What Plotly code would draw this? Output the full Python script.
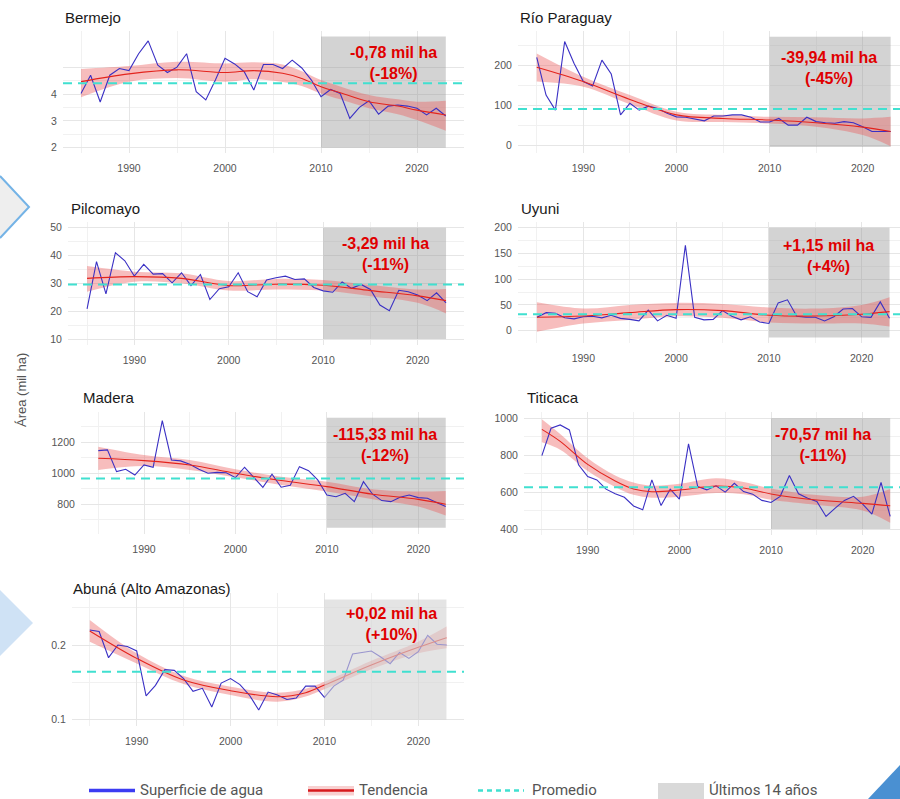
import plotly.graph_objects as go

YEARS = list(range(1985, 2024))

NAMES = ["Bermejo", "Río Paraguay", "Pilcomayo", "Uyuni", "Madera", "Titicaca",
         "Abuná (Alto Amazonas)"]

# ---- water surface (mil ha), 1985..2023 ----
bermejo = [4.02, 4.70, 3.70, 4.70, 4.95, 4.87, 5.50, 5.98, 5.07, 4.80,
           5.00, 5.50, 4.09, 3.78, 4.52, 5.33, 5.12, 4.83, 4.15, 5.10,
           5.10, 4.95, 5.26, 4.97, 4.52, 3.90, 4.17, 4.02, 3.09, 3.50,
           3.75, 3.25, 3.55, 3.59, 3.55, 3.47, 3.22, 3.47, 3.18]
rio_paraguay = [221, 126, 88, 261, 206, 160, 149, 214, 179, 76,
                105, 88, 98, 92, 80, 71, 70, 66, 61, 73,
                73, 76, 76, 70, 58, 58, 67, 50, 50, 70,
                59, 56, 55, 59, 56, 46, 34, 34, 34]
pilcomayo = [20.8, 37.8, 26.2, 41.0, 38.1, 32.6, 36.8, 33.3, 33.5, 30.2,
             33.8, 29.2, 33.2, 24.2, 28.1, 28.8, 33.8, 27.0, 25.2, 31.2,
             32.0, 32.6, 31.4, 31.6, 28.5, 27.3, 26.8, 30.5, 28.2, 29.6,
             27.8, 22.2, 20.2, 27.5, 27.0, 25.8, 23.8, 26.6, 23.0]
uyuni = [26, 35, 34, 25, 23, 27, 28, 25, 30, 24,
         22, 19, 40, 19, 30, 24, 166, 26, 21, 22,
         39, 28, 21, 27, 17, 14, 54, 60, 28, 26,
         26, 19, 27, 42, 43, 27, 26, 56, 24]
madera = [1146, 1151, 1011, 1026, 989, 1054, 1039, 1340, 1086, 1080,
          1058, 1026, 1000, 1006, 1004, 972, 1039, 974, 910, 994,
          910, 923, 1043, 1017, 957, 860, 849, 871, 817, 946,
          865, 824, 817, 845, 860, 843, 839, 811, 785]
titicaca = [798, 946, 964, 937, 748, 684, 666, 616, 591, 572,
            525, 504, 666, 527, 616, 562, 861, 630, 612, 634,
            600, 648, 603, 589, 555, 544, 577, 690, 591, 567,
            549, 468, 513, 555, 577, 535, 481, 652, 468]
abuna = [0.220, 0.218, 0.183, 0.200, 0.198, 0.192, 0.132, 0.146, 0.167, 0.166,
         0.155, 0.138, 0.142, 0.117, 0.149, 0.155, 0.147, 0.133, 0.113, 0.137,
         0.133, 0.127, 0.129, 0.145, 0.145, 0.130, 0.145, 0.153, 0.188, 0.190,
         0.192, 0.184, 0.175, 0.190, 0.182, 0.191, 0.213, 0.201, 0.200]

# ---- trend (smoothed) with confidence band, read at selected years ----
bermejo_ty = [1985, 1990, 1995, 2000, 2003, 2006, 2008, 2010, 2012, 2015, 2018, 2020, 2023]
bermejo_trend = [4.46, 4.75, 4.90, 4.80, 4.87, 4.77, 4.58, 4.27, 4.05, 3.71, 3.55, 3.40, 3.22]
bermejo_up = [4.93, 5.04, 5.20, 5.14, 5.18, 5.10, 4.85, 4.52, 4.28, 3.96, 3.80, 3.71, 3.75]
bermejo_lo = [3.88, 4.46, 4.60, 4.46, 4.55, 4.45, 4.30, 4.02, 3.80, 3.47, 3.25, 3.03, 2.63]

rio_paraguay_ty = [1985, 1990, 1995, 2000, 2005, 2010, 2015, 2020, 2023]
rio_paraguay_trend = [196, 160, 115, 76, 67, 63, 56, 45, 34]
rio_paraguay_up = [231, 172, 126, 84, 76, 71, 70, 67, 71]
rio_paraguay_lo = [160, 147, 103, 62, 58, 54, 46, 25, -3]

pilcomayo_ty = [1985, 1990, 1995, 2000, 2005, 2010, 2015, 2020, 2023]
pilcomayo_trend = [31.8, 32.4, 31.8, 29.2, 29.7, 29.3, 27.4, 25.5, 23.8]
pilcomayo_up = [36.2, 34.2, 33.6, 30.8, 31.6, 31.2, 29.4, 27.8, 28.0]
pilcomayo_lo = [27.0, 30.6, 30.0, 27.4, 27.8, 27.4, 25.4, 23.0, 19.2]

uyuni_ty = [1985, 1990, 1995, 2000, 2005, 2010, 2015, 2020, 2023]
uyuni_trend = [26, 28.5, 35, 41, 39, 30, 28.5, 32, 37]
uyuni_up = [55, 43, 50, 54, 52, 45, 43, 50, 65]
uyuni_lo = [-2, 14, 21, 28, 25, 16, 14, 14, 8]

madera_ty = [1985, 1990, 1995, 2000, 2005, 2010, 2015, 2020, 2023]
madera_trend = [1097, 1082, 1054, 1000, 953, 914, 865, 832, 800]
madera_up = [1172, 1118, 1086, 1026, 978, 946, 897, 882, 886]
madera_lo = [1022, 1047, 1022, 974, 925, 882, 832, 785, 727]

titicaca_ty = [1985, 1987, 1990, 1993, 1995, 1997, 2000, 2004, 2007, 2010, 2015, 2020, 2023]
titicaca_trend = [940, 875, 750, 660, 617, 602, 611, 633, 622, 590, 557, 539, 526]
titicaca_up = [995, 915, 783, 690, 652, 635, 645, 675, 655, 620, 584, 575, 617]
titicaca_lo = [870, 830, 715, 628, 585, 570, 575, 595, 588, 558, 530, 500, 434]

abuna_ty = [1985, 1990, 1995, 2000, 2005, 2008, 2010, 2015, 2020, 2023]
abuna_trend = [0.2188, 0.1821, 0.1531, 0.1388, 0.1308, 0.1362, 0.1464, 0.1732, 0.1969, 0.2098]
abuna_up = [0.2335, 0.1888, 0.1585, 0.1442, 0.1362, 0.1415, 0.1509, 0.1790, 0.2045, 0.2246]
abuna_lo = [0.2045, 0.1754, 0.1478, 0.1330, 0.1241, 0.1310, 0.1406, 0.1674, 0.1888, 0.1955]

# ---- averages and "last 14 years" band limits ----
MEANS = [4.40, 91, 29.6, 32, 966, 626, 0.1643]
BAND_X = [2010, 2023]
BAND_LOW = [2.0, -5, 10, -13, 649, 400, 0.1]
BAND_HIGH = [6.14, 273, 50, 200, 1359, 1000, 0.261]

CHANGES = ["-0,78 mil ha<br>(-18%)", "-39,94 mil ha<br>(-45%)", "-3,29 mil ha<br>(-11%)",
           "+1,15 mil ha<br>(+4%)", "-115,33 mil ha<br>(-12%)", "-70,57 mil ha<br>(-11%)",
           "+0,02 mil ha<br>(+10%)"]

# y tick labels
Y_TICKS = [[2, 3, 4, 5], [0, 100, 200], [10, 20, 30, 40, 50], [0, 50, 100, 150, 200],
           [800, 1000, 1200], [400, 600, 800, 1000], [0.1, 0.2]]
Y_TICKTEXT = [["2", "3", "4", ""], ["0", "100", "200"], ["10", "20", "30", "40", "50"],
              ["0", "50", "100", "150", "200"], ["800", "1000", "1200"],
              ["400", "600", "800", "1000"], ["0.1", "0.2"]]
Y_MINOR = [[2.5, 3.5, 4.5], [50, 150, 250], [15, 25, 35, 45], [-25, 25, 75, 125, 175],
           [700, 900, 1100, 1300], [500, 700, 900], [0.15, 0.25]]
X_TICKS = [1990, 2000, 2010, 2020]
X_MINOR = [1985, 1995, 2005, 2015]

SERIES = [bermejo, rio_paraguay, pilcomayo, uyuni, madera, titicaca, abuna]
TRENDS = [(bermejo_ty, bermejo_trend, bermejo_up, bermejo_lo),
          (rio_paraguay_ty, rio_paraguay_trend, rio_paraguay_up, rio_paraguay_lo),
          (pilcomayo_ty, pilcomayo_trend, pilcomayo_up, pilcomayo_lo),
          (uyuni_ty, uyuni_trend, uyuni_up, uyuni_lo),
          (madera_ty, madera_trend, madera_up, madera_lo),
          (titicaca_ty, titicaca_trend, titicaca_up, titicaca_lo),
          (abuna_ty, abuna_trend, abuna_up, abuna_lo)]

# ---- layout (pixel geometry of each panel) ----
W, H = 900, 799
# box: left, right, top, bottom ; xcal: pixel of 1990, 2020 ; ycal: (px, val), (px, val)
LAYOUT = [
    dict(box=(63, 464, 31, 153), xcal=(129, 417), ycal=((94, 4), (147.7, 2)), title=(63, 17), note=(393, 63)),
    dict(box=(518, 900, 31, 153), xcal=(583.3, 862.7), ycal=((65.7, 200), (145, 0)), title=(518, 17), note=(829, 68)),
    dict(box=(68, 464, 222, 345), xcal=(134.3, 417.7), ycal=((227.7, 50), (339, 10)), title=(69, 208), note=(385, 254)),
    dict(box=(518, 900, 222, 343), xcal=(583.3, 861.7), ycal=((227.7, 200), (330.7, 0)), title=(519, 208), note=(828, 256)),
    dict(box=(81, 464, 412, 534), xcal=(144, 418.3), ycal=((442.3, 1200), (504.3, 800)), title=(81, 397), note=(385, 445)),
    dict(box=(524, 900, 412, 535), xcal=(587.7, 862.7), ycal=((418.3, 1000), (529, 400)), title=(525, 397), note=(823, 445)),
    dict(box=(72, 464, 593, 726), xcal=(136.7, 418.3), ycal=((645, 0.2), (719.7, 0.1)), title=(71, 588), note=(391, 624)),
]


def lin(p1, v1, p2, v2, p):
    return v1 + (p - p1) * (v2 - v1) / (p2 - p1)


def px(x):
    return x / W


def py(y):
    return 1 - y / H


FONT = "Liberation Sans, Arial, sans-serif"
BLUE = "#3a30c4"
RED = "#e3241d"
CYAN = "#40E0D0"
BAND = "rgba(235,90,90,0.40)"

fig = go.Figure()
shapes = []
annotations = []

for i in range(7):
    n = i + 1
    xa = "x" if n == 1 else f"x{n}"
    ya = "y" if n == 1 else f"y{n}"
    L = LAYOUT[i]
    left, right, top, bottom = L["box"]
    ty, tr, up, lo = TRENDS[i]

    fig.add_trace(go.Scatter(x=ty, y=up, mode="lines", line=dict(width=0, shape="spline"),
                             hoverinfo="skip", showlegend=False, xaxis=xa, yaxis=ya))
    fig.add_trace(go.Scatter(x=ty, y=lo, mode="lines", line=dict(width=0, shape="spline"),
                             fill="tonexty", fillcolor=BAND, hoverinfo="skip",
                             showlegend=False, xaxis=xa, yaxis=ya))
    fig.add_trace(go.Scatter(x=YEARS, y=SERIES[i], mode="lines", line=dict(color=BLUE, width=1.1),
                             name="Superficie de agua", showlegend=False, xaxis=xa, yaxis=ya))
    fig.add_trace(go.Scatter(x=ty, y=tr, mode="lines", line=dict(color=RED, width=1.1, shape="spline"),
                             name="Tendencia", showlegend=False, xaxis=xa, yaxis=ya))

    xr = [lin(L["xcal"][0], 1990, L["xcal"][1], 2020, left),
          lin(L["xcal"][0], 1990, L["xcal"][1], 2020, right)]
    (p1, v1), (p2, v2) = L["ycal"]
    yr = [lin(p1, v1, p2, v2, bottom), lin(p1, v1, p2, v2, top)]

    axis_common = dict(showline=False, zeroline=False, showgrid=True,
                       gridcolor="#e6e6e6", gridwidth=1,
                       tickfont=dict(family=FONT, size=10.5, color="#555555"),
                       ticks="outside", tickcolor="rgba(0,0,0,0)")
    xkey = "xaxis" if n == 1 else f"xaxis{n}"
    ykey = "yaxis" if n == 1 else f"yaxis{n}"
    fig.layout[xkey] = dict(axis_common, domain=[px(left), px(right)], range=xr,
                            anchor=ya, tickvals=X_TICKS, ticktext=[str(v) for v in X_TICKS],
                            ticklen=5,
                            minor=dict(tickvals=X_MINOR, showgrid=True, gridcolor="#f1f1f1",
                                       ticks=""))
    fig.layout[ykey] = dict(axis_common, domain=[py(bottom), py(top)], range=yr,
                            anchor=xa, tickvals=Y_TICKS[i], ticktext=Y_TICKTEXT[i],
                            ticklen=3,
                            minor=dict(tickvals=Y_MINOR[i], showgrid=True, gridcolor="#f1f1f1",
                                       ticks=""))

    # last 14 years band
    if n == 7:
        shapes.append(dict(type="rect", xref=xa, yref=ya, x0=BAND_X[0], x1=BAND_X[1],
                           y0=BAND_LOW[i], y1=BAND_HIGH[i], layer="above",
                           fillcolor="rgba(212,212,212,0.62)", line=dict(width=0)))
    else:
        shapes.append(dict(type="rect", xref=xa, yref=ya, x0=BAND_X[0], x1=BAND_X[1],
                           y0=BAND_LOW[i], y1=BAND_HIGH[i], layer="between",
                           fillcolor="rgba(150,150,150,0.42)", line=dict(width=0)))
    # average line
    shapes.append(dict(type="line", xref=f"{xa} domain", yref=ya, x0=0, x1=1,
                       y0=MEANS[i], y1=MEANS[i], layer="above",
                       line=dict(color=CYAN, width=2, dash="9px,6px")))

    annotations.append(dict(xref="paper", yref="paper", x=px(L["title"][0]), y=py(L["title"][1]),
                            xanchor="left", yanchor="middle", showarrow=False, text=NAMES[i],
                            font=dict(family=FONT, size=15, color="#1a1a1a")))
    annotations.append(dict(xref="paper", yref="paper", x=px(L["note"][0]), y=py(L["note"][1]),
                            xanchor="center", yanchor="middle", showarrow=False,
                            text=f"<b>{CHANGES[i]}</b>", align="center",
                            font=dict(family=FONT, size=16, color="#e00000")))

# y-axis title
annotations.append(dict(xref="paper", yref="paper", x=px(21), y=py(390), textangle=-90,
                        xanchor="center", yanchor="middle", showarrow=False, text="Área (mil ha)",
                        font=dict(family=FONT, size=13, color="#555555")))

# decorative shapes
def path(pts):
    s = "M " + " L ".join(f"{px(a):.5f},{py(b):.5f}" for a, b in pts)
    return s

shapes.append(dict(type="path", xref="paper", yref="paper",
                   path=path([(0, 176), (29, 207), (0, 238)]) + " Z",
                   fillcolor="#eeeeee", line=dict(width=0), layer="below"))
shapes.append(dict(type="path", xref="paper", yref="paper",
                   path=path([(0, 176), (29, 207), (0, 238)]),
                   line=dict(color="#74b3e6", width=2), layer="below"))
shapes.append(dict(type="path", xref="paper", yref="paper",
                   path=path([(0, 590), (33, 623), (0, 656)]) + " Z",
                   fillcolor="#cfe2f5", line=dict(width=0), layer="below"))
shapes.append(dict(type="path", xref="paper", yref="paper",
                   path=path([(868, 799), (900, 765), (900, 799)]) + " Z",
                   fillcolor="#4a90d2", line=dict(width=0), layer="above"))

# custom legend
LEG_Y = 790.5
LEG_FONT = dict(family="Liberation Sans Narrow, Roboto, sans-serif", size=15, color="#555555")
shapes.append(dict(type="line", xref="paper", yref="paper", x0=px(89), x1=px(135),
                   y0=py(LEG_Y), y1=py(LEG_Y), line=dict(color="#3c3cf2", width=3.5)))
annotations.append(dict(xref="paper", yref="paper", x=px(138), y=py(LEG_Y - 1), xanchor="left",
                        yanchor="middle", showarrow=False, text="Superficie de agua", font=LEG_FONT))
shapes.append(dict(type="rect", xref="paper", yref="paper", x0=px(308), x1=px(354),
                   y0=py(795.5), y1=py(786), fillcolor="rgba(240,150,150,0.45)", line=dict(width=0)))
shapes.append(dict(type="line", xref="paper", yref="paper", x0=px(308), x1=px(354),
                   y0=py(LEG_Y), y1=py(LEG_Y), line=dict(color="#d7191c", width=2.5)))
annotations.append(dict(xref="paper", yref="paper", x=px(357), y=py(LEG_Y - 1), xanchor="left",
                        yanchor="middle", showarrow=False, text="Tendencia", font=LEG_FONT))
shapes.append(dict(type="line", xref="paper", yref="paper", x0=px(478), x1=px(524),
                   y0=py(LEG_Y), y1=py(LEG_Y), line=dict(color=CYAN, width=2.5, dash="5px,4px")))
annotations.append(dict(xref="paper", yref="paper", x=px(530), y=py(LEG_Y - 1), xanchor="left",
                        yanchor="middle", showarrow=False, text="Promedio", font=LEG_FONT))
shapes.append(dict(type="rect", xref="paper", yref="paper", x0=px(658), x1=px(704),
                   y0=py(799), y1=py(783), fillcolor="#d9d9d9", line=dict(width=0)))
annotations.append(dict(xref="paper", yref="paper", x=px(707), y=py(LEG_Y - 1), xanchor="left",
                        yanchor="middle", showarrow=False, text="Últimos 14 años", font=LEG_FONT))

fig.update_layout(width=W, height=H, margin=dict(l=0, r=0, t=0, b=0),
                  paper_bgcolor="white", plot_bgcolor="white", showlegend=False,
                  shapes=shapes, annotations=annotations,
                  font=dict(family=FONT))

fig.write_html("out.html", config={"displayModeBar": False},
               post_script="document.body.style.margin='0px';document.body.style.overflow='hidden';")
